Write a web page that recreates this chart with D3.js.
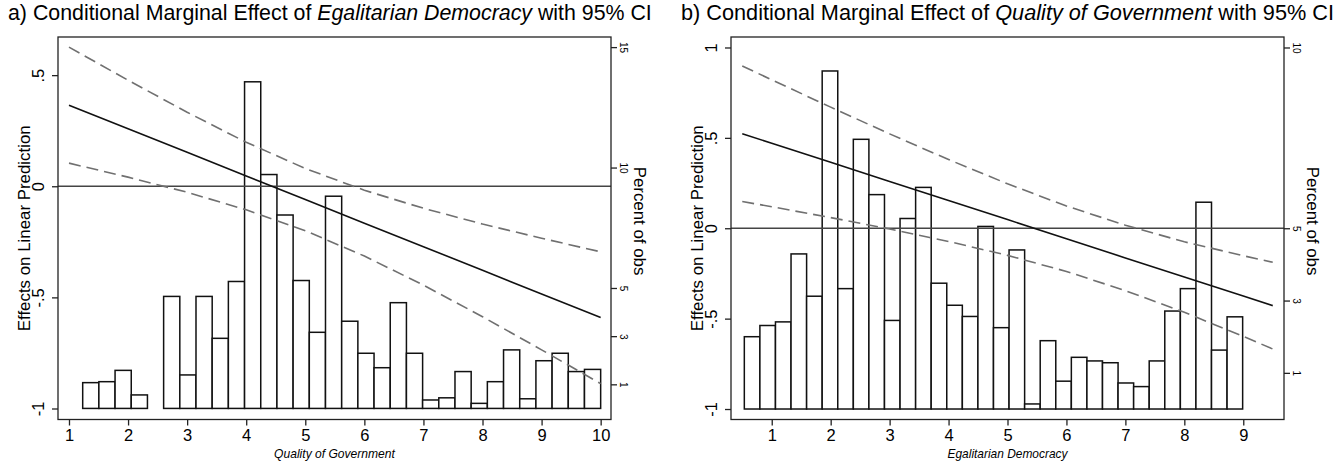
<!DOCTYPE html>
<meta charset="utf-8">
<script src="https://cdn.jsdelivr.net/npm/d3@7"></script>
<style>
  body { margin: 0; background: #fff; }
  text { font-family: "Liberation Sans", Arial, Helvetica, sans-serif; fill: #000; }
</style>
<div id="chart"></div>
<script>
// ---- panel a: effect of Egalitarian Democracy over Quality of Government ----
var qogAt = [1, 2, 3, 4, 5, 6, 7, 8, 9, 10];
var edEffect = [0.365, 0.259, 0.153, 0.046, -0.060, -0.166, -0.272, -0.378, -0.485, -0.591];
var edUpper  = [0.626, 0.477, 0.333, 0.198, 0.080, -0.018, -0.099, -0.170, -0.234, -0.295];
var edLower  = [0.104, 0.041, -0.027, -0.106, -0.200, -0.314, -0.445, -0.587, -0.736, -0.888];
// histogram of Quality of Government (percent of obs per bin)
var qogBinStart = 1.232, qogBinWidth = 0.274;
var qogPercent = [1.07, 1.11, 1.58, 0.56, 0, 4.65, 1.39, 4.65, 2.91, 5.27, 13.56, 9.71, 8.03, 5.31, 3.16, 8.81,
                  3.62, 2.29, 1.69, 4.39, 2.29, 0.35, 0.44, 1.53, 0.21, 1.11, 2.43, 0.40, 1.98, 2.29, 1.53, 1.62];

// ---- panel b: effect of Quality of Government over Egalitarian Democracy ----
var edAt = [0.5, 1, 2, 3, 4, 5, 6, 7, 8, 9, 9.5];
var qogEffect = [0.523, 0.470, 0.365, 0.259, 0.153, 0.048, -0.058, -0.164, -0.270, -0.375, -0.428];
var qogUpper  = [0.898, 0.821, 0.670, 0.522, 0.380, 0.246, 0.123, 0.017, -0.075, -0.152, -0.188];
var qogLower  = [0.148, 0.119, 0.059, -0.004, -0.073, -0.150, -0.239, -0.345, -0.465, -0.598, -0.668];
// histogram of Egalitarian Democracy
var edBinStart = 0.535, edBinWidth = 0.2642;
var edPercent = [2.00, 2.31, 2.41, 4.29, 3.12, 9.35, 3.33, 7.46, 5.93, 2.45, 5.27, 6.13, 3.48, 2.87, 2.56, 5.05,
                 2.25, 4.40, 0.14, 1.89, 0.77, 1.43, 1.33, 1.28, 0.72, 0.62, 1.33, 2.71, 3.33, 5.72, 1.63, 2.55];

var svg = d3.select("#chart").append("svg")
    .attr("width", 1340)
    .attr("height", 463);

var fmt = function(d) { return d === 0 ? "0" : String(d).replace("0.", "."); };

// shrink/grow a text so it spans the wanted width
function fitWidth(sel, target) {
  var fs = parseFloat(sel.style("font-size"));
  var w = sel.node().getComputedTextLength();
  sel.style("font-size", (fs * target / w).toFixed(2) + "px");
}

function drawPanel(p) {
  var x = d3.scaleLinear().domain(p.xDomain).range([p.left, p.right]);
  var y = d3.scaleLinear().domain(p.yDomain).range([p.bottom, p.top]);
  var y2 = d3.scaleLinear().domain(p.y2Domain).range([p.bottom, p.top]);
  var g = svg.append("g");

  var bins = p.percent.map(function(v, i) {
    return {x0: p.binStart + i * p.binWidth, x1: p.binStart + (i + 1) * p.binWidth, pct: v};
  }).filter(function(b) { return b.pct > 0; });

  // histogram bars
  g.selectAll("rect.bar")
    .data(bins)
    .enter().append("rect")
      .attr("class", "bar")
      .attr("x", function(d) { return x(d.x0); })
      .attr("width", function(d) { return x(d.x1) - x(d.x0); })
      .attr("y", function(d) { return y2(d.pct); })
      .attr("height", function(d) { return y2(0) - y2(d.pct); })
      .attr("fill", "#fff")
      .attr("stroke", "#111")
      .attr("stroke-width", 1.5);

  // zero line
  g.append("line")
    .attr("x1", p.left).attr("x2", p.right)
    .attr("y1", y(0)).attr("y2", y(0))
    .attr("stroke", "#444").attr("stroke-width", 1.3);

  var line = function(vals) {
    return d3.line()
      .x(function(d, i) { return x(p.at[i]); })
      .y(function(d) { return y(d); })(vals);
  };
  [p.upper, p.lower].forEach(function(ci) {
    g.append("path").attr("d", line(ci))
      .attr("fill", "none").attr("stroke", "#707070")
      .attr("stroke-width", 1.6).attr("stroke-dasharray", "12,6");
  });
  g.append("path").attr("d", line(p.effect))
    .attr("fill", "none").attr("stroke", "#111").attr("stroke-width", 1.6);

  // frame
  g.append("rect")
    .attr("x", p.left).attr("y", p.top)
    .attr("width", p.right - p.left).attr("height", p.bottom - p.top)
    .attr("fill", "none").attr("stroke", "#222").attr("stroke-width", 1.3);

  // bottom axis
  var xa = g.append("g").attr("transform", "translate(0," + p.bottom + ")")
    .call(d3.axisBottom(x).tickValues(p.xTicks).tickSize(6).tickSizeOuter(0).tickFormat(d3.format("d")));
  xa.select(".domain").remove();
  xa.selectAll("line").attr("stroke", "#222").attr("stroke-width", 1.3);
  xa.selectAll("text").attr("y", 10).attr("dy", "0.71em").style("font-size", "16.5px");

  // left axis, rotated labels
  var ya = g.append("g").attr("transform", "translate(" + p.left + ",0)")
    .call(d3.axisLeft(y).tickValues(p.yTicks).tickSize(6).tickSizeOuter(0).tickFormat(fmt));
  ya.select(".domain").remove();
  ya.selectAll("line").attr("stroke", "#222").attr("stroke-width", 1.3);
  ya.selectAll("text")
    .attr("x", null).attr("dy", null)
    .attr("transform", "translate(-14,0) rotate(-90)")
    .attr("text-anchor", "middle")
    .style("font-size", "16.5px");

  // right axis (percent), rotated labels
  var y2a = g.append("g").attr("transform", "translate(" + p.right + ",0)")
    .call(d3.axisRight(y2).tickValues(p.y2Ticks).tickSize(6).tickSizeOuter(0));
  y2a.select(".domain").remove();
  y2a.selectAll("line").attr("stroke", "#222").attr("stroke-width", 1.3);
  y2a.selectAll("text")
    .attr("x", null).attr("dy", null)
    .attr("transform", "translate(9,0) rotate(90)")
    .attr("text-anchor", "middle")
    .style("font-size", "10px");

  // axis titles
  var yt = g.append("text")
    .attr("transform", "translate(" + (p.left - 28) + "," + ((p.top + p.bottom) / 2) + ") rotate(-90)")
    .attr("text-anchor", "middle")
    .style("font-size", "16.5px")
    .text("Effects on Linear Prediction");
  fitWidth(yt, 206);
  g.append("text")
    .attr("transform", "translate(" + (p.right + 23) + ",221) rotate(90)")
    .attr("text-anchor", "middle")
    .style("font-size", yt.style("font-size"))
    .text("Percent of obs");
  var xt = g.append("text")
    .attr("x", (p.left + p.right) / 2).attr("y", 458)
    .attr("text-anchor", "middle")
    .style("font-size", "11px").style("font-style", "italic")
    .text(p.xTitle);
  fitWidth(xt, p.xTitleWidth);

  // panel title
  var t = svg.append("text").attr("x", p.titleX).attr("y", 20).style("font-size", "17.5px");
  t.append("tspan").text(p.titleParts[0]);
  t.append("tspan").style("font-style", "italic").text(p.titleParts[1]);
  t.append("tspan").text(p.titleParts[2]);
  fitWidth(t, p.titleWidth);
}

drawPanel({
  left: 58, right: 611, top: 37, bottom: 419.5,
  xDomain: [0.814, 10.175], yDomain: [-1.0495, 0.6716], y2Domain: [-0.46, 15.42],
  xTicks: qogAt, yTicks: [-1, -0.5, 0, 0.5], y2Ticks: [1, 3, 5, 10, 15],
  at: qogAt, effect: edEffect, upper: edUpper, lower: edLower,
  binStart: qogBinStart, binWidth: qogBinWidth, percent: qogPercent,
  xTitle: "Quality of Government", xTitleWidth: 121,
  titleX: 8, titleWidth: 644,
  titleParts: ["a) Conditional Marginal Effect of ", "Egalitarian Democracy", " with 95% CI"]
});

drawPanel({
  left: 731, right: 1284, top: 37, bottom: 419.5,
  xDomain: [0.309, 9.691], yDomain: [-1.058, 1.058], y2Domain: [-0.29, 10.29],
  xTicks: [1, 2, 3, 4, 5, 6, 7, 8, 9], yTicks: [-1, -0.5, 0, 0.5, 1], y2Ticks: [1, 3, 5, 10],
  at: edAt, effect: qogEffect, upper: qogUpper, lower: qogLower,
  binStart: edBinStart, binWidth: edBinWidth, percent: edPercent,
  xTitle: "Egalitarian Democracy", xTitleWidth: 120,
  titleX: 681, titleWidth: 653,
  titleParts: ["b) Conditional Marginal Effect of ", "Quality of Government", " with 95% CI"]
});
</script>
